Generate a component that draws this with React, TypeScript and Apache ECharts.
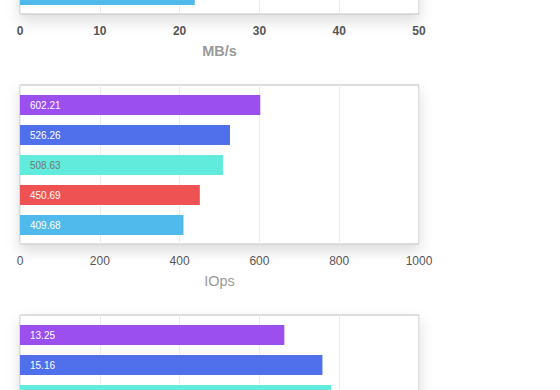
import React, { useEffect, useRef } from "react";
import * as echarts from "echarts";

// bottom-to-top slots of each panel
const barSlots = ["1", "2", "3", "4", "5"];
const barColors = ["#4fbaeb", "#ef5252", "#60ebdc", "#5070eb", "#9b4fee"];
const labelColors = ["#ffffff", "#ffffff", "#777777", "#ffffff", "#ffffff"];

// top panel (MB/s) – only the lowest bar is visible
const mbpsValues: (number | null)[] = [21.9, null, null, null, null];
const mbpsTicks = { min: 0, max: 50, interval: 10 };

// middle panel (IOps)
const iopsValues: (number | null)[] = [409.68, 450.69, 508.63, 526.26, 602.21];
const iopsTicks = { min: 0, max: 1000, interval: 200 };

// bottom panel – only the top bars are visible
const thirdValues: (number | null)[] = [null, null, 15.6, 15.16, 13.25];
const thirdTicks = { min: 0, max: 20, interval: 4 };

const FONT = "'Liberation Sans', Arial, Helvetica, sans-serif";
const SHIFT = 160; // the page is scrolled: the canvas starts above the window

export default function App() {
  const ref = useRef<HTMLDivElement>(null);

  useEffect(() => {
    if (!ref.current) return;
    const chart = echarts.init(ref.current, undefined, { renderer: "svg" });

    const panels = [
      { values: mbpsValues, ticks: mbpsTicks, name: "MB/s", decoTop: -145, bold: true, showAxis: true, hiddenLabel: 0 },
      { values: iopsValues, ticks: iopsTicks, name: "IOps", decoTop: 85, bold: false, showAxis: true, hiddenLabel: -1 },
      { values: thirdValues, ticks: thirdTicks, name: "", decoTop: 315, bold: false, showAxis: false, hiddenLabel: 2 },
    ];

    const grid: any[] = [];
    const xAxis: any[] = [];
    const yAxis: any[] = [];
    const series: any[] = [];

    panels.forEach((p, i) => {
      const deco = i * 2;
      const bars = i * 2 + 1;
      grid.push({
        left: 20,
        width: 399,
        top: p.decoTop + SHIFT,
        height: 159,
        show: true,
        containLabel: false,
        outerBoundsMode: "none",
        borderColor: "#bdbdbd",
        borderWidth: 1,
        backgroundColor: "#ffffff",
        shadowColor: "rgba(0,0,0,0.13)",
        shadowBlur: 14,
        shadowOffsetY: 7,
      });
      grid.push({
        left: 20,
        width: 399,
        top: p.decoTop + 5 + SHIFT,
        height: 150,
        containLabel: false,
        outerBoundsMode: "none",
      });

      xAxis.push({
        type: "value",
        gridIndex: deco,
        min: p.ticks.min,
        max: p.ticks.max,
        interval: p.ticks.interval,
        axisLine: { show: false },
        axisTick: { show: false },
        axisLabel: { show: false },
        splitLine: { show: true, lineStyle: { color: "#ececec", width: 1 } },
      });
      xAxis.push({
        type: "value",
        gridIndex: bars,
        min: p.ticks.min,
        max: p.ticks.max,
        interval: p.ticks.interval,
        axisLine: { show: false },
        axisTick: { show: false },
        splitLine: { show: false },
        axisLabel: {
          show: p.showAxis,
          margin: 15,
          fontSize: 12,
          color: "#555",
          fontFamily: FONT,
          fontWeight: p.bold ? "bold" : "normal",
          formatter: (v: number) => String(v),
        },
        name: p.name,
        nameLocation: "middle",
        nameGap: 33,
        nameTextStyle: {
          fontSize: 14.5,
          color: "#9a9a9a",
          fontFamily: FONT,
          fontWeight: p.bold ? "bold" : "normal",
        },
      });

      yAxis.push({ type: "category", gridIndex: deco, data: barSlots, show: false });
      yAxis.push({ type: "category", gridIndex: bars, data: barSlots, show: false });

      series.push({
        type: "bar",
        xAxisIndex: bars,
        yAxisIndex: bars,
        barWidth: 20,
        data: p.values.map((v, k) => ({
          value: v,
          itemStyle: { color: barColors[k] },
          label: { color: labelColors[k], show: k !== p.hiddenLabel },
        })),
        label: {
          show: true,
          position: "insideLeft",
          distance: 10,
          fontSize: 10,
          fontFamily: FONT,
          formatter: (d: any) => String(d.value),
        },
      });
    });

    chart.setOption({
      animation: false,
      backgroundColor: "#ffffff",
      grid,
      xAxis,
      yAxis,
      series,
    });

    return () => chart.dispose();
  }, []);

  return (
    <div
      ref={ref}
      style={{ position: "fixed", left: 0, top: -SHIFT, width: 560, height: 720 }}
    />
  );
}
